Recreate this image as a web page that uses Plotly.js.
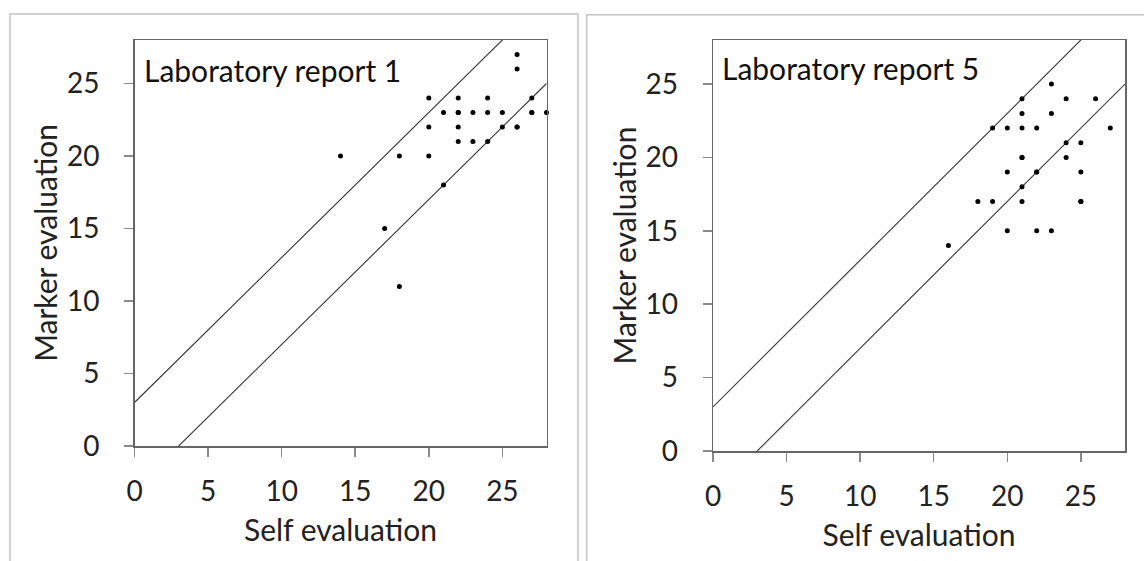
<!DOCTYPE html>
<html><head><meta charset="utf-8">
<script src="https://cdn.plot.ly/plotly-3.0.1.min.js"></script>
<style>html,body{margin:0;padding:0;background:#fff}#chart{width:1144px;height:561px}</style>
</head><body><div id="chart"></div>
<script>
// Laboratory report 1
const report1Self   = [26,26,20,22,24,27,21,22,22,23,24,25,27,27,28,20,22,25,26,26,22,23,24,14,18,20,21,17,18];
const report1Marker = [27,26,24,24,24,24,23,23,23,23,23,23,23,23,23,22,22,22,22,22,21,21,21,20,20,20,18,15,11];
// Laboratory report 5
const report5Self   = [23,21,24,26,21,23,19,20,21,22,27,24,25,21,21,24,20,22,22,25,21,18,19,21,25,25,20,22,23,16];
const report5Marker = [25,24,24,24,23,23,22,22,22,22,22,21,21,20,20,20,19,19,19,19,18,17,17,17,17,17,15,15,15,14];
// Agreement band: marker = self ± 3
const bandX      = [0, 28];
const bandUpperY = [3, 31];
const bandLowerY = [-3, 25];
const tickValues = [0, 5, 10, 15, 20, 25];
const panelTitles = ['Laboratory report 1', 'Laboratory report 5'];
const xTitle = 'Self evaluation';
const yTitle = 'Marker evaluation';

const W = 1144, H = 561;
const FONT = 'Lato, "Open Sans", sans-serif';
const lineStyle = {color: '#333', width: 1.1};

function band(xa, ya) {
  return [
    {x: bandX, y: bandUpperY, xaxis: xa, yaxis: ya, mode: 'lines', line: lineStyle, hoverinfo: 'skip', showlegend: false},
    {x: bandX, y: bandLowerY, xaxis: xa, yaxis: ya, mode: 'lines', line: lineStyle, hoverinfo: 'skip', showlegend: false}
  ];
}
function pts(xs, ys, xa, ya) {
  return {x: xs, y: ys, xaxis: xa, yaxis: ya, mode: 'markers', cliponaxis: false,
    marker: {color: '#000', size: 5}, showlegend: false};
}

const data = [].concat(
  band('x', 'y'), [pts(report1Self, report1Marker, 'x', 'y')],
  band('x2', 'y2'), [pts(report5Self, report5Marker, 'x2', 'y2')]
);

function xAxis(d, anchor) {
  return {domain: d, anchor: anchor, range: [0, 28], tickvals: tickValues, showgrid: false, zeroline: false,
    showline: true, mirror: true, linecolor: '#666', linewidth: 1.5,
    ticks: 'outside', ticklen: 9, tickwidth: 1.5, tickcolor: '#8a8a8a', ticklabelstandoff: 11,
    tickfont: {family: FONT, size: 28, color: '#222'},
    title: {text: xTitle, font: {family: FONT, size: 30, color: '#222'}, standoff: 14}};
}
function yAxis(d, anchor) {
  return {domain: d, anchor: anchor, range: [0, 28], tickvals: tickValues, showgrid: false, zeroline: false,
    showline: true, mirror: true, linecolor: '#666', linewidth: 1.5,
    ticks: 'outside', ticklen: 9, tickwidth: 1.5, tickcolor: '#8a8a8a', ticklabelstandoff: 19,
    tickfont: {family: FONT, size: 28, color: '#222'},
    title: {text: yTitle, font: {family: FONT, size: 30, color: '#222'}, standoff: 0}};
}

const layout = {
  width: W, height: H, margin: {l: 0, r: 0, t: 0, b: 0},
  paper_bgcolor: '#fff', plot_bgcolor: '#fff', showlegend: false,
  xaxis:  xAxis([134.5 / W, 546.5 / W], 'y'),
  yaxis:  yAxis([(H - 446) / H, (H - 40) / H], 'x'),
  xaxis2: xAxis([713 / W, 1125 / W], 'y2'),
  yaxis2: yAxis([(H - 451) / H, (H - 40) / H], 'x2'),
  shapes: [
    {type: 'rect', xref: 'paper', yref: 'paper', x0: 10 / W, x1: 578 / W, y0: -0.1, y1: (H - 14) / H,
     line: {color: '#c4c4c4', width: 1.5}, layer: 'below'},
    {type: 'rect', xref: 'paper', yref: 'paper', x0: 586.7 / W, x1: 1.1, y0: -0.1, y1: (H - 14.7) / H,
     line: {color: '#c4c4c4', width: 1.5}, layer: 'below'}
  ],
  annotations: [
    {text: panelTitles[0], xref: 'paper', yref: 'paper', x: 142 / W, y: (H - 70) / H, xanchor: 'left', yanchor: 'middle',
     showarrow: false, font: {family: FONT, size: 30, color: '#111'}},
    {text: panelTitles[1], xref: 'paper', yref: 'paper', x: 720 / W, y: (H - 68) / H, xanchor: 'left', yanchor: 'middle',
     showarrow: false, font: {family: FONT, size: 30, color: '#111'}}
  ]
};

Plotly.newPlot('chart', data, layout, {staticPlot: true, displayModeBar: false});
</script>
</body></html>
